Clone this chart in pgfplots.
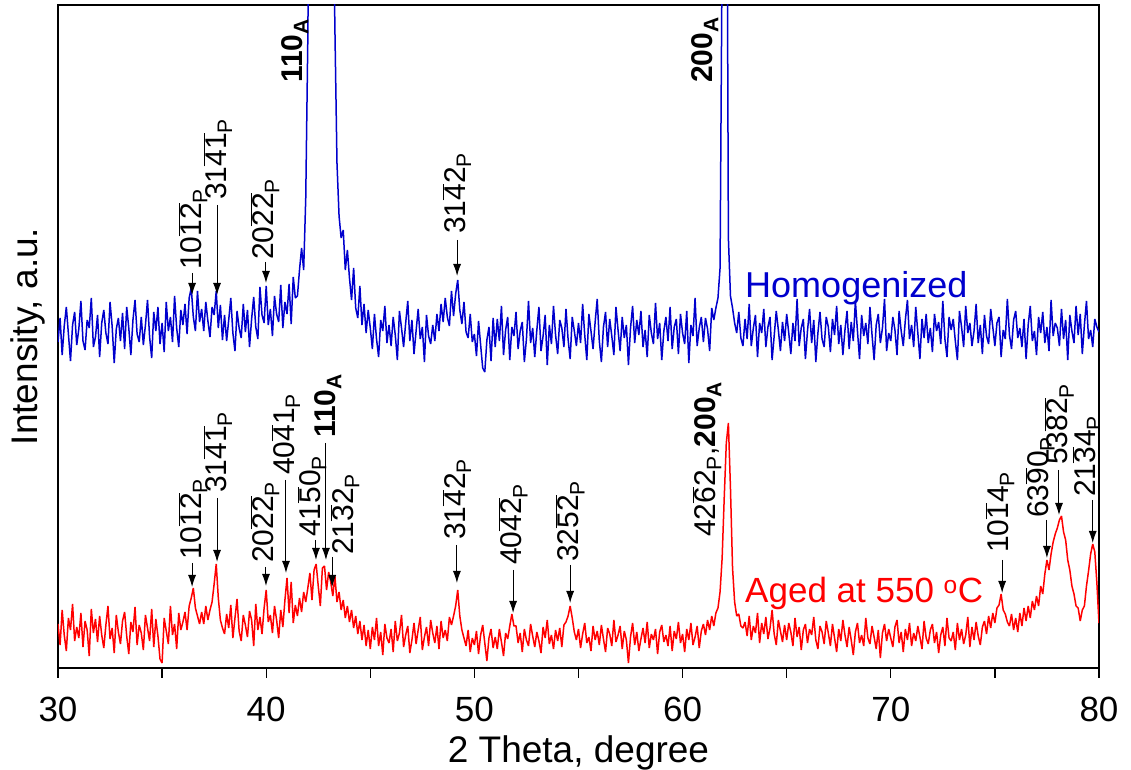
\documentclass[border=0pt]{standalone}
\usepackage{pgfplots}
\pgfplotsset{compat=1.18}
\usepackage{pgfplotstable}
\usepackage{fontspec}
\setmainfont{Liberation Sans}
\usetikzlibrary{arrows.meta}
\definecolor{hblue}{RGB}{0,0,205}
\definecolor{ared}{RGB}{255,0,0}
\newcommand{\ob}[1]{\ensuremath{\overline{\mbox{#1}}}}
\newcommand{\sP}{\textsubscript{P}}
\newcommand{\sA}{\textsubscript{A}}

\pgfplotstableread{
x b r
30.0 326 44
30.1 350 23
30.2 313 58
30.3 342 33
30.4 361 17
30.5 334 50
30.6 307 38
30.7 343 64
30.8 356 27
30.9 323 41
31.0 339 30
31.1 367 55
31.2 327 21
31.3 318 47
31.4 348 38
31.5 340 12
31.6 370 59
31.7 321 35
31.8 331 49
31.9 353 26
32.0 311 52
32.1 345 33
32.2 358 20
32.3 335 43
32.4 324 62
32.5 366 29
32.6 342 40
32.7 305 15
32.8 339 53
32.9 350 36
33.0 327 24
33.1 355 47
33.2 319 56
33.3 361 32
33.4 340 14
33.5 313 46
33.6 348 36
33.7 368 61
33.8 334 23
33.9 326 43
34.0 351 35
34.1 323 18
34.2 343 53
34.3 368 40
34.4 331 27
34.5 310 59
34.6 356 21
34.7 337 49
34.8 361 32
34.9 324 9
35.0 345 5
35.1 316 50
35.2 366 37
35.3 337 24
35.4 351 62
35.5 326 33
35.6 372 44
35.7 340 19
35.8 321 55
35.9 358 38
36.0 343 46
36.1 364 56
36.2 334 38
36.3 370 62
36.4 380 70
36.5 351 80
36.6 337 60
36.7 377 52
36.8 346 44
36.9 359 56
37.0 337 44
37.1 366 62
37.2 347 48
37.3 331 58
37.4 361 66
37.5 353 84
37.6 377 104
37.7 340 70
37.8 363 48
37.9 328 40
38.0 353 34
38.1 327 54
38.2 348 40
38.3 370 63
38.4 335 30
38.5 317 50
38.6 357 69
38.7 340 37
38.8 330 27
38.9 364 53
39.0 336 43
39.1 358 31
39.2 321 57
39.3 349 48
39.4 371 22
39.5 341 64
39.6 329 38
39.7 381 51
39.8 353 34
39.9 345 60
40.0 382 78
40.1 343 46
40.2 359 53
40.3 332 35
40.4 372 62
40.5 354 48
40.6 346 30
40.7 383 58
40.8 340 41
40.9 366 68
41.0 354 90
41.1 384 55
41.2 344 86
41.3 391 45
41.4 370 63
41.5 372 52
41.6 398 70
41.7 420 56
41.8 398 76
41.9 470 66
42.0 630 80
42.1 900 95
42.2 1400 68
42.3 2200 98
42.4 3000 104
42.5 3500 82
42.6 3600 62
42.7 3400 100
42.8 2800 102
42.9 2200 78
43.0 1600 96
43.1 1100 86
43.2 800 72
43.3 640 92
43.4 505 66
43.5 452 76
43.6 430 58
43.7 438 68
43.8 398 50
43.9 418 62
44.0 390 46
44.1 368 58
44.2 400 40
44.3 360 52
44.4 350 34
44.5 382 47
44.6 343 28
44.7 364 43
44.8 335 22
44.9 358 38
45.0 340 19
45.1 319 41
45.2 354 28
45.3 329 50
45.4 311 22
45.5 348 36
45.6 337 13
45.7 362 44
45.8 325 30
45.9 343 25
46.0 322 39
46.1 351 16
46.2 333 47
46.3 308 27
46.4 357 35
46.5 340 53
46.6 321 21
46.7 345 33
46.8 367 42
46.9 327 15
47.0 348 28
47.1 314 45
47.2 337 24
47.3 359 38
47.4 329 51
47.5 341 18
47.6 306 31
47.7 353 41
47.8 332 22
47.9 324 48
48.0 343 35
48.1 327 25
48.2 354 42
48.3 337 19
48.4 364 47
48.5 346 30
48.6 370 38
48.7 351 27
48.8 342 51
48.9 377 43
49.0 352 52
49.1 374 62
49.2 388 78
49.3 358 52
49.4 344 38
49.5 366 30
49.6 336 22
49.7 330 38
49.8 354 16
49.9 326 30
50.0 334 23
50.1 312 37
50.2 347 14
50.3 323 33
50.4 300 43
50.5 296 25
50.6 328 7
50.7 341 30
50.8 307 39
50.9 350 20
51.0 321 31
51.1 349 19
51.2 327 39
51.3 362 26
51.4 313 12
51.5 338 35
51.6 351 29
51.7 308 42
51.8 341 54
51.9 332 42
52.0 356 42
52.1 319 25
52.2 337 35
52.3 346 16
52.4 306 39
52.5 329 28
52.6 367 22
52.7 325 44
52.8 340 32
52.9 311 21
53.0 338 36
53.1 361 27
53.2 317 15
53.3 332 41
53.4 353 30
53.5 303 48
53.6 343 24
53.7 324 33
53.8 362 19
53.9 333 38
54.0 314 27
54.1 348 40
54.2 340 21
54.3 321 43
54.4 359 46
54.5 329 52
54.6 309 62
54.7 351 50
54.8 337 36
54.9 322 28
55.0 345 39
55.1 325 20
55.2 364 34
55.3 333 45
55.4 308 25
55.5 354 31
55.6 337 17
55.7 319 42
55.8 346 28
55.9 369 37
56.0 327 23
56.1 306 43
56.2 341 29
56.3 356 16
56.4 321 40
56.5 349 34
56.6 332 22
56.7 313 48
56.8 361 26
56.9 338 33
57.0 317 42
57.1 351 19
57.2 330 37
57.3 343 28
57.4 303 5
57.5 340 31
57.6 362 45
57.7 325 23
57.8 348 36
57.9 333 17
58.0 357 29
58.1 321 40
58.2 338 25
58.3 311 46
58.4 353 20
58.5 335 34
58.6 324 28
58.7 365 39
58.8 329 14
58.9 345 36
59.0 308 43
59.1 337 26
59.2 351 33
59.3 327 22
59.4 361 42
59.5 319 17
59.6 341 37
59.7 349 29
59.8 314 46
59.9 354 25
60.0 335 34
60.1 324 16
60.2 357 39
60.3 305 28
60.4 343 45
60.5 332 23
60.6 370 31
60.7 322 42
60.8 340 20
60.9 351 37
61.0 326 44
61.1 350 33
61.2 339 48
61.3 317 38
61.4 360 52
61.5 348 42
61.6 360 55
61.7 370 60
61.8 400 76
61.9 720 110
62.0 3000 170
62.1 1000 225
62.2 430 245
62.3 372 180
62.4 360 100
62.5 345 66
62.6 335 52
62.7 356 54
62.8 330 42
62.9 322 40
63.0 349 46
63.1 329 32
63.2 364 52
63.3 322 28
63.4 340 42
63.5 353 35
63.6 311 55
63.7 345 25
63.8 335 45
63.9 359 34
64.0 321 51
64.1 341 29
64.2 351 40
64.3 308 58
64.4 332 34
64.5 357 23
64.6 338 48
64.7 317 37
64.8 346 26
64.9 327 43
65.0 354 28
65.1 335 45
65.2 314 36
65.3 345 22
65.4 327 50
65.5 369 31
65.6 322 41
65.7 340 18
65.8 349 38
65.9 309 44
66.0 337 25
66.1 359 39
66.2 325 33
66.3 348 51
66.4 306 28
66.5 335 19
66.6 356 42
66.7 329 36
66.8 321 24
66.9 351 47
67.0 341 35
67.1 316 22
67.2 349 44
67.3 333 30
67.4 362 16
67.5 324 39
67.6 343 27
67.7 313 48
67.8 338 33
67.9 357 21
68.0 319 41
68.1 346 28
68.2 327 13
68.3 367 36
68.4 337 45
68.5 309 25
68.6 353 33
68.7 332 22
68.8 345 50
68.9 324 30
69.0 361 24
69.1 333 42
69.2 308 31
69.3 343 19
69.4 354 38
69.5 325 10
69.6 340 35
69.7 369 44
69.8 317 27
69.9 335 39
70.0 327 30
70.1 351 21
70.2 338 41
70.3 313 48
70.4 357 25
70.5 337 36
70.6 322 16
70.7 348 39
70.8 368 28
70.9 329 45
71.0 343 22
71.1 321 35
71.2 361 27
71.3 335 42
71.4 309 31
71.5 349 19
71.6 330 47
71.7 354 30
71.8 325 24
71.9 340 38
72.0 316 44
72.1 354 25
72.2 337 36
72.3 346 15
72.4 324 33
72.5 367 41
72.6 329 22
72.7 311 50
72.8 351 30
72.9 338 27
73.0 349 36
73.1 327 18
73.2 308 45
73.3 357 28
73.4 341 39
73.5 321 24
73.6 362 33
73.7 335 51
73.8 345 21
73.9 322 41
74.0 337 28
74.1 364 46
74.2 325 32
74.3 343 23
74.4 314 41
74.5 353 47
74.6 332 34
74.7 324 52
74.8 359 40
74.9 341 55
75.0 322 45
75.1 345 60
75.2 351 63
75.3 311 74
75.4 338 58
75.5 329 54
75.6 369 46
75.7 333 42
75.8 319 54
75.9 348 38
76.0 357 50
76.1 330 36
76.2 340 55
76.3 321 42
76.4 349 60
76.5 309 47
76.6 343 62
76.7 362 50
76.8 327 67
76.9 337 58
77.0 313 72
77.1 351 62
77.2 335 82
77.3 356 74
77.4 325 94
77.5 341 108
77.6 317 98
77.7 368 114
77.8 332 126
77.9 345 134
78.0 340 140
78.1 322 148
78.2 359 152
78.3 329 136
78.4 348 128
78.5 308 108
78.6 353 98
78.7 337 82
78.8 325 74
78.9 362 62
79.0 333 60
79.1 354 47
79.2 314 58
79.3 343 62
79.4 367 82
79.5 329 97
79.6 338 114
79.7 321 124
79.8 349 116
79.9 341 85
80.0 336 45
}\xrd

\begin{document}
\begin{tikzpicture}[
  lab/.style={rotate=90, anchor=west, inner sep=0pt, font=\fontsize{30}{30}\selectfont},
  arr/.style={line width=1pt, -{Latex[length=12pt,width=8pt]}},
]
\useasboundingbox (0,0) rectangle (1131pt,770pt);
\begin{axis}[
  at={(58pt,102pt)}, anchor=south west,
  width=1041pt, height=663pt, scale only axis,
  xmin=30, xmax=80, ymin=0, ymax=663,
  xtick={30,40,...,80}, minor xtick={35,45,...,75},
  ytick=\empty,
  tick align=outside, xtick pos=bottom,
  major tick length=10pt, minor tick length=10pt,
  every tick/.style={black, line width=1.3pt},
  axis line style={line width=1.3pt},
  /pgf/number format/assume math mode=true,
  xticklabel style={font=\fontsize{35}{35}\selectfont, yshift=-16pt},
  xlabel={2 Theta, degree},
  ylabel={Intensity, a.u.},
  xlabel style={font=\fontsize{37}{37}\selectfont, at={(axis description cs:0.5,-0.1418)}, anchor=base},
  ylabel style={font=\fontsize{37}{37}\selectfont, at={(axis description cs:-0.0288,0.5)}, anchor=center},
]
\addplot[hblue, line width=1.5pt, line join=bevel] table[x=x, y=b] {\xrd};
\addplot[ared, line width=1.5pt, line join=bevel] table[x=x, y=r] {\xrd};

% blue labels
\node[lab] at (axis cs:36.48,398) {10\ob{1}\ob{2}\sP};
\draw[arr] (axis cs:36.44,395) -- (axis cs:36.44,373);
\node[lab] at (axis cs:37.68,468) {31\ob{4}\ob{1}\sP};
\draw[arr] (axis cs:37.64,463) -- (axis cs:37.64,373);
\node[lab] at (axis cs:39.94,408) {20\ob{2}\ob{2}\sP};
\draw[arr] (axis cs:39.99,406) -- (axis cs:39.99,385);
\node[lab] at (axis cs:41.38,585) {\textbf{110\sA}};
\node[lab] at (axis cs:49.16,434) {31\ob{4}2\sP};
\draw[arr] (axis cs:49.17,428) -- (axis cs:49.17,392);
\node[lab] at (axis cs:61.08,585) {\textbf{200\sA}};

% red labels
\node[lab] at (axis cs:36.48,108) {10\ob{1}\ob{2}\sP};
\draw[arr] (axis cs:36.44,105) -- (axis cs:36.44,81);
\node[lab] at (axis cs:37.68,175) {31\ob{4}\ob{1}\sP};
\draw[arr] (axis cs:37.64,170) -- (axis cs:37.64,106);
\node[lab] at (axis cs:39.94,105) {20\ob{2}\ob{2}\sP};
\draw[arr] (axis cs:39.99,101) -- (axis cs:39.99,82);
\node[lab] at (axis cs:40.95,193) {40\ob{4}1\sP};
\draw[arr] (axis cs:40.95,188) -- (axis cs:40.95,95);
\node[lab] at (axis cs:42.20,131) {41\ob{5}0\sP};
\draw[arr] (axis cs:42.39,128) -- (axis cs:42.39,108);
\node[lab] at (axis cs:42.97,230) {\textbf{110\sA}};
\draw[arr] (axis cs:42.87,225) -- (axis cs:42.87,108);
\node[lab] at (axis cs:43.78,113) {21\ob{3}2\sP};
\draw[arr] (axis cs:43.17,111) -- (axis cs:43.17,81);
\node[lab] at (axis cs:49.16,128) {31\ob{4}2\sP};
\draw[arr] (axis cs:49.16,123) -- (axis cs:49.16,85);
\node[lab] at (axis cs:51.86,103) {40\ob{4}\ob{2}\sP};
\draw[arr] (axis cs:51.86,98) -- (axis cs:51.86,55);
\node[lab] at (axis cs:54.60,106) {32\ob{5}\ob{2}\sP};
\draw[arr] (axis cs:54.60,103) -- (axis cs:54.60,65);
\node[lab] at (axis cs:61.17,131) {42\ob{6}2\sP,\textbf{200\sA}};
\node[lab] at (axis cs:75.25,115) {10\ob{1}4\sP};
\draw[arr] (axis cs:75.35,108) -- (axis cs:75.35,75);
\node[lab] at (axis cs:77.18,150) {63\ob{9}0\sP};
\draw[arr] (axis cs:77.50,148) -- (axis cs:77.50,110);
\node[lab] at (axis cs:78.10,203) {53\ob{8}\ob{2}\sP};
\draw[arr] (axis cs:78.08,198) -- (axis cs:78.08,153);
\node[lab] at (axis cs:79.42,171) {21\ob{3}4\sP};
\draw[arr] (axis cs:79.70,168) -- (axis cs:79.70,125);

\node[anchor=base west, inner sep=0pt, text=hblue, font=\fontsize{36}{36}\selectfont] at (axis cs:63.0,370) {Homogenized};
\node[anchor=base west, inner sep=0pt, text=ared, font=\fontsize{35}{35}\selectfont] at (axis cs:63.0,65) {Aged at 550 \textsuperscript{o}C};
\end{axis}
\end{tikzpicture}
\end{document}
